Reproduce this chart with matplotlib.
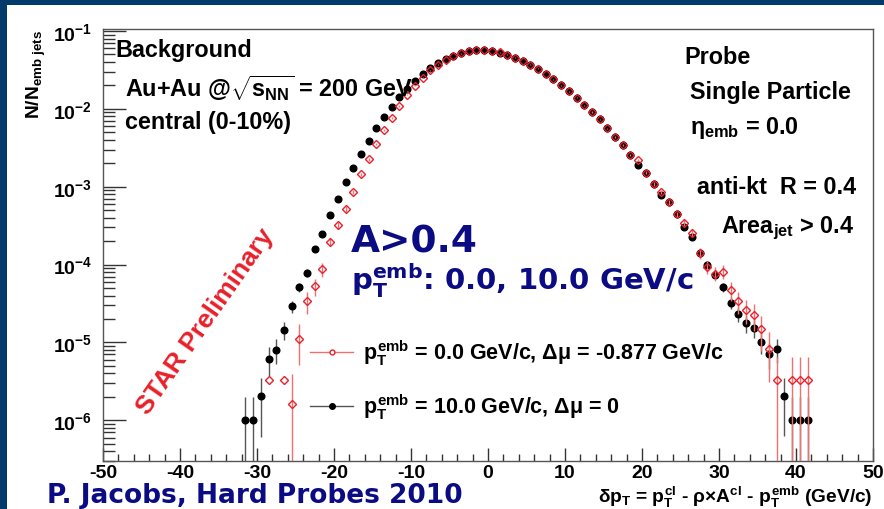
import numpy as np
import matplotlib
matplotlib.use("Agg")
import matplotlib.pyplot as plt
from matplotlib.patches import Rectangle
from matplotlib.ticker import FixedLocator, MultipleLocator, LogLocator, FuncFormatter, NullFormatter

plt.rcParams['font.family'] = ['Liberation Sans', 'DejaVu Sans']
plt.rcParams['font.weight'] = 'bold'
plt.rcParams['mathtext.fontset'] = 'custom'
plt.rcParams['mathtext.rm'] = 'Liberation Sans:bold'
plt.rcParams['mathtext.it'] = 'Liberation Sans:bold'
plt.rcParams['mathtext.bf'] = 'Liberation Sans:bold'
plt.rcParams['mathtext.sf'] = 'Liberation Sans:bold'
plt.rcParams['axes.unicode_minus'] = False

# ---------------- data ----------------
bin_centers = [
    -31.5, -30.5, -29.5, -28.5, -27.5, -26.5, -25.5, -24.5, -23.5, -22.5,
    -21.5, -20.5, -19.5, -18.5, -17.5, -16.5, -15.5, -14.5, -13.5, -12.5,
    -11.5, -10.5, -9.5, -8.5, -7.5, -6.5, -5.5, -4.5, -3.5, -2.5,
    -1.5, -0.5, 0.5, 1.5, 2.5, 3.5, 4.5, 5.5, 6.5, 7.5,
    8.5, 9.5, 10.5, 11.5, 12.5, 13.5, 14.5, 15.5, 16.5, 17.5,
    18.5, 19.5, 20.5, 21.5, 22.5, 23.5, 24.5, 25.5, 26.5, 27.5,
    28.5, 29.5, 30.5, 31.5, 32.5, 33.5, 34.5, 35.5, 36.5, 37.5,
    38.5, 39.5, 40.5, 41.5]

# p_T^emb = 10.0 GeV/c (black)
black_vals = [
    1.0e-6, 1.0e-6, 2.05e-6, 6.2e-6, 8.1e-6, 1.45e-5, 2.9e-5, 5.1e-5, 7.9e-5, 1.58e-4,
    2.5e-4, 4.35e-4, 7.0e-4, 1.15e-3, 1.73e-3, 2.66e-3, 3.9e-3, 5.6e-3, 7.9e-3, 1.06e-2,
    1.40e-2, 1.82e-2, 2.26e-2, 2.78e-2, 3.32e-2, 3.85e-2, 4.34e-2, 4.78e-2, 5.18e-2, 5.53e-2,
    5.70e-2, 5.70e-2, 5.53e-2, 5.28e-2, 4.92e-2, 4.55e-2, 4.12e-2, 3.70e-2, 3.29e-2, 2.81e-2,
    2.40e-2, 2.01e-2, 1.68e-2, 1.38e-2, 1.11e-2, 9.1e-3, 7.35e-3, 5.6e-3, 4.4e-3, 3.43e-3,
    2.56e-3, 1.88e-3, 1.52e-3, 1.09e-3, 7.8e-4, 6.3e-4, 4.4e-4, 3.0e-4, 2.23e-4, 1.39e-4,
    1.0e-4, 7.3e-5, 5.15e-5, 3.23e-5, 2.34e-5, 1.75e-5, 1.55e-5, 1.02e-5, 7.2e-6, 8.3e-6,
    2.06e-6, 1.0e-6, 1.0e-6, 1.0e-6]

# p_T^emb = 0.0 GeV/c (red), nan = empty bin
red_vals = [
    np.nan, np.nan, np.nan, 3.27e-6, np.nan, 3.27e-6, 1.64e-6, 1.12e-5, 3.4e-5, 5.3e-5,
    8.7e-5, 1.97e-4, 3.2e-4, 5.2e-4, 8.6e-4, 1.44e-3, 2.25e-3, 3.5e-3, 5.4e-3, 7.6e-3,
    1.09e-2, 1.52e-2, 1.97e-2, 2.5e-2, 3.13e-2, 3.7e-2, 4.25e-2, 4.75e-2, 5.15e-2, 5.5e-2,
    5.7e-2, 5.7e-2, 5.55e-2, 5.3e-2, 4.95e-2, 4.55e-2, 4.12e-2, 3.7e-2, 3.29e-2, 2.81e-2,
    2.4e-2, 2.01e-2, 1.68e-2, 1.38e-2, 1.11e-2, 9.1e-3, 7.35e-3, 5.6e-3, 4.4e-3, 3.43e-3,
    2.56e-3, 2.2e-3, 1.52e-3, 1.09e-3, 8.5e-4, 6.3e-4, 4.4e-4, 3.46e-4, 2.57e-4, 1.4e-4,
    9.3e-5, 7.65e-5, 8.1e-5, 4.66e-5, 3.4e-5, 2.63e-5, 2.24e-5, 1.48e-5, 8.3e-6, 3.27e-6,
    np.nan, 3.27e-6, 3.27e-6, 3.27e-6]

# per-entry weights (statistical errors: sqrt(N) * weight)
W_BLACK = 1.0e-6
W_RED = 3.27e-6

x_ticks = [-50, -40, -30, -20, -10, 0, 10, 20, 30, 40, 50]
y_ticks = [1e-6, 1e-5, 1e-4, 1e-3, 1e-2, 1e-1]

x = np.array(bin_centers)
yb = np.array(black_vals)
yr = np.array(red_vals)
eb = np.sqrt(yb * W_BLACK)
er = np.sqrt(np.nan_to_num(yr) * W_RED)
er[x < -26] = 0.0

# ---------------- figure ----------------
W, H = 884, 510
fig = plt.figure(figsize=(W / 100, H / 100), dpi=100)
fig.patch.set_facecolor('#023a6c')
fig.patches.append(Rectangle((7 / W, 0), 1, (H - 6) / H, transform=fig.transFigure,
                             facecolor='white', edgecolor='none', zorder=-10))

L, R, T, B = 103, 873, 30, 462
ax = fig.add_axes([L / W, (H - B) / H, (R - L) / W, (B - T) / H])
ax.set_facecolor('white')
ax.set_yscale('log')
ax.set_xlim(-50, 50)
ax.set_ylim(3.0e-7, 1.06e-1)

for s in ax.spines.values():
    s.set_color('#555555')
    s.set_linewidth(1.0)

ax.xaxis.set_major_locator(FixedLocator(x_ticks))
ax.xaxis.set_minor_locator(MultipleLocator(2))
ax.xaxis.set_major_formatter(FuncFormatter(lambda v, p: f"{v:g}"))
ax.yaxis.set_major_locator(FixedLocator(y_ticks))
ax.yaxis.set_minor_locator(LogLocator(base=10, subs=np.arange(2, 10)))
ax.yaxis.set_minor_formatter(NullFormatter())
ax.yaxis.set_major_formatter(FuncFormatter(lambda v, p: r"$10^{%d}$" % int(round(np.log10(v)))))

ax.tick_params(axis='x', which='major', direction='in', length=9.4, width=1,
               color='#333333', labelsize=14, pad=2, top=False)
ax.tick_params(axis='x', which='minor', direction='in', length=5, width=1,
               color='#333333', top=False)
ax.tick_params(axis='y', which='major', direction='in', length=16.5, width=1,
               color='#333333', labelsize=14, pad=8, right=False)
ax.tick_params(axis='y', which='minor', direction='in', length=8.5, width=1,
               color='#333333', right=False)

RED = '#e8202a'
RED_BAR = '#f07070'

ax.errorbar(x, yb, yerr=eb, fmt='o', color='black', ms=4.8, ecolor='#555555',
            elinewidth=1.0, capsize=0, zorder=3)
ax.errorbar(x, yr, yerr=er, fmt='D', mfc='none', mec=RED, ms=4.0, mew=1.0,
            ecolor=RED_BAR, elinewidth=1.0, capsize=0, zorder=4)


def fx(px):
    return px / W


def fy(py):
    return (H - py) / H


# legend (drawn manually, ROOT style)
ax.plot([fx(310), fx(353)], [fy(353), fy(353)], transform=fig.transFigure,
        color=RED_BAR, lw=1.0, clip_on=False)
ax.plot([fx(331.5)], [fy(353)], transform=fig.transFigure, marker='o', ms=3.5,
        mfc='white', mec=RED, mew=1.0, clip_on=False)
ax.plot([fx(310), fx(353)], [fy(407), fy(407)], transform=fig.transFigure,
        color='#555555', lw=1.0, clip_on=False)
ax.plot([fx(331.5)], [fy(407)], transform=fig.transFigure, marker='o', ms=4,
        color='black', clip_on=False)

fs = 15.5
fig.text(fx(363), fy(353), r"$p_{T}^{emb}$ = 0.0 GeV/c, $\Delta\mu$ = -0.877 GeV/c",
         fontsize=fs, ha='left', va='center')
fig.text(fx(363), fy(407), r"$p_{T}^{emb}$ = 10.0 GeV/c, $\Delta\mu$ = 0",
         fontsize=fs, ha='left', va='center')

# labels in the frame
ts = 16.8
fig.text(fx(115), fy(50), "Background", fontsize=ts, ha='left', va='center')
fig.text(fx(125), fy(88), r"Au+Au @$\sqrt{s_{NN}}$ = 200 GeV", fontsize=ts, ha='left', va='center')
fig.text(fx(125), fy(123), "central (0-10%)", fontsize=ts, ha='left', va='center')
fig.text(fx(684), fy(58), "Probe", fontsize=ts, ha='left', va='center')
fig.text(fx(690), fy(92), "Single Particle", fontsize=ts, ha='left', va='center')
fig.text(fx(690), fy(128), r"$\eta_{emb}$ = 0.0", fontsize=ts, ha='left', va='center')
fig.text(fx(697), fy(187), "anti-kt  R = 0.4", fontsize=ts, ha='left', va='center')
fig.text(fx(721), fy(228), r"Area$_{jet}$ > 0.4", fontsize=ts, ha='left', va='center')

# axis titles
fig.text(fx(872), fy(497.5), r"$\delta p_{T}$ = $p_{T}^{cl}$ - $\rho$×A$^{cl}$ - $p_{T}^{emb}$ (GeV/c)",
         fontsize=13.8, ha='right', va='center')
fig.text(fx(36), fy(30), r"N/N$_{emb\ jets}$", fontsize=13.8, rotation=90,
         ha='center', va='top')

# STAR Preliminary
fig.text(fx(205), fy(322), "STAR Preliminary", color=RED, fontsize=19,
         rotation=55, ha='center', va='center', rotation_mode='anchor')

# navy slide annotations
NAVY = '#0b0b84'
fig.text(fx(351), fy(243), "A>0.4", color=NAVY, fontsize=27, ha='left', va='center',
         family='DejaVu Sans', weight='bold')
fig.text(fx(351), fy(281), r"$\mathbf{p_{T}^{emb}}$: 0.0, 10.0 GeV/c", color=NAVY, fontsize=21,
         ha='left', va='center', family='DejaVu Sans', weight='bold', math_fontfamily='dejavusans')
fig.text(fx(47), fy(496), "P. Jacobs, Hard Probes 2010", color=NAVY, fontsize=19,
         ha='left', va='center', family='DejaVu Sans', weight='bold')

fig.savefig("out.png", dpi=100, facecolor=fig.get_facecolor())
